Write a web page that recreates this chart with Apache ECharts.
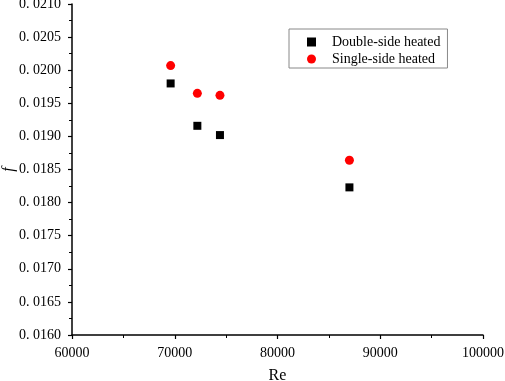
<!DOCTYPE html>
<html>
<head>
<meta charset="utf-8">
<script src="https://cdn.jsdelivr.net/npm/echarts@6/dist/echarts.min.js"></script>
<style>
  html, body { margin: 0; padding: 0; background: #fff; }
  #main { width: 505px; height: 381px; }
</style>
</head>
<body>
<div id="main"></div>
<script>
// values
const reDouble = [69600, 72200, 74400, 87000];
const fDouble = [0.01980, 0.01916, 0.01902, 0.01823];
const reSingle = [69600, 72200, 74400, 87000];
const fSingle = [0.02007, 0.01965, 0.01962, 0.01864];
const seriesNames = ['Double-side heated', 'Single-side heated'];

const chart = echarts.init(document.getElementById('main'));
const serif = '"Liberation Serif", "DejaVu Serif", serif';

const pairs = (xs, ys) => xs.map((x, i) => [x, ys[i]]);

const option = {
  animation: false,
  grid: { left: 72, right: 22, top: 4, bottom: 46, containLabel: false, outerBoundsMode: 'none' },
  legend: {
    orient: 'vertical',
    left: 289,
    top: 29,
    padding: [6, 7, 2, 18],
    itemGap: 3,
    itemWidth: 9,
    itemHeight: 9,
    borderColor: '#888',
    borderWidth: 1,
    textStyle: { fontFamily: serif, fontSize: 14, color: '#000', padding: [0, 0, 0, 11] },
    data: seriesNames
  },
  xAxis: {
    type: 'value',
    min: 60000, max: 100000, interval: 10000,
    name: 'Re',
    nameLocation: 'middle',
    nameGap: 33,
    nameMoveOverlap: false,
    nameTextStyle: { fontFamily: serif, fontSize: 16, color: '#000' },
    axisLine: { lineStyle: { color: '#000', width: 1.5 } },
    axisTick: { inside: false, length: 4, lineStyle: { color: '#000', width: 1.2 } },
    minorTick: { show: true, splitNumber: 2, length: 3, lineStyle: { color: '#000', width: 1 } },
    splitLine: { show: false },
    axisLabel: {
      fontFamily: serif, fontSize: 14, color: '#000', margin: 11,
      formatter: v => String(v)
    }
  },
  yAxis: {
    type: 'value',
    min: 0.016, max: 0.021, interval: 0.0005,
    name: 'f',
    nameLocation: 'middle',
    nameRotate: 90,
    nameGap: 55,
    nameMoveOverlap: false,
    nameTextStyle: { fontFamily: serif, fontSize: 16, fontStyle: 'italic', color: '#000' },
    axisLine: { show: true, lineStyle: { color: '#000', width: 1.5 } },
    axisTick: { show: true, inside: false, length: 4, lineStyle: { color: '#000', width: 1.2 } },
    minorTick: { show: true, splitNumber: 2, length: 3, lineStyle: { color: '#000', width: 1 } },
    splitLine: { show: false },
    axisLabel: {
      fontFamily: serif, fontSize: 14, color: '#000', margin: 11,
      formatter: v => v.toFixed(4).replace('.', '. ')
    }
  },
  series: [
    {
      name: seriesNames[0],
      type: 'scatter',
      symbol: 'rect',
      symbolSize: 8,
      itemStyle: { color: '#000', opacity: 1 },
      data: pairs(reDouble, fDouble)
    },
    {
      name: seriesNames[1],
      type: 'scatter',
      symbol: 'circle',
      symbolSize: 9,
      itemStyle: { color: '#ff0000', opacity: 1 },
      data: pairs(reSingle, fSingle)
    }
  ]
};

chart.setOption(option);
</script>
</body>
</html>
